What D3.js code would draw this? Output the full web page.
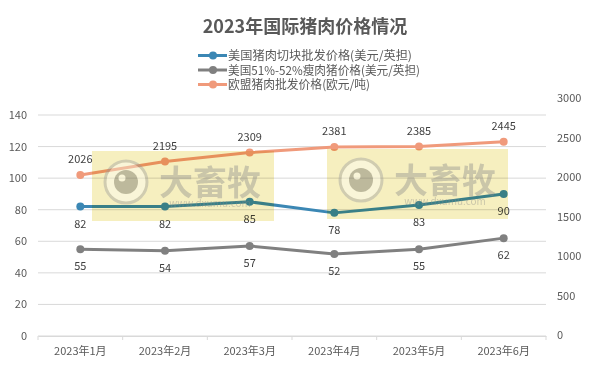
<!DOCTYPE html>
<html>
<head>
<meta charset="utf-8">
<script src="https://cdn.jsdelivr.net/npm/d3@7"></script>
<style>
body { margin: 0; background: #fff; }
text { font-family: "Noto Sans CJK SC", "Noto Sans", sans-serif; }
</style>
</head>
<body>
<div id="chart"></div>
<script>
// data
var months = ["2023年1月", "2023年2月", "2023年3月", "2023年4月", "2023年5月", "2023年6月"];
var usCut = [82, 82, 85, 78, 83, 90];
var usLean = [55, 54, 57, 52, 55, 62];
var euPork = [2026, 2195, 2309, 2381, 2385, 2445];
var leftTicks = [0, 20, 40, 60, 80, 100, 120, 140];
var rightTicks = [0, 500, 1000, 1500, 2000, 2500, 3000];
var seriesNames = ["美国猪肉切块批发价格(美元/英担)", "美国51%-52%瘦肉猪价格(美元/英担)", "欧盟猪肉批发价格(欧元/吨)"];
var colors = ["#3b87b4", "#808080", "#f09a7b"];

var width = 601, height = 382;
var left = 38, right = 546;

var svg = d3.select("#chart").append("svg")
	.attr("width", width)
	.attr("height", height);

var x = d3.scaleBand().domain(months).range([left, right]);
var yL = d3.scaleLinear().domain([0, 140]).range([336, 115]);
var yR = d3.scaleLinear().domain([0, 3000]).range([335, 98]);

// title
svg.append("text")
	.attr("x", 305).attr("y", 33)
	.attr("text-anchor", "middle")
	.attr("font-size", 18).attr("font-weight", "bold")
	.attr("fill", "#595959")
	.text("2023年国际猪肉价格情况");

// legend
var legendWidths = [184, 192, 142];
seriesNames.forEach(function(name, i){
	var ly = 55.5 + i * 14.5;
	svg.append("line").attr("x1", 198).attr("x2", 227).attr("y1", ly).attr("y2", ly)
		.attr("stroke", colors[i]).attr("stroke-width", 3);
	svg.append("circle").attr("cx", 213).attr("cy", ly).attr("r", 4).attr("fill", colors[i]);
	svg.append("text").attr("x", 228).attr("y", ly + 4.5)
		.attr("font-size", 12).attr("fill", "#595959")
		.attr("textLength", legendWidths[i]).attr("lengthAdjust", "spacingAndGlyphs")
		.text(name);
});

// gridlines
svg.append("g").selectAll("line").data(leftTicks).enter().append("line")
	.attr("x1", left).attr("x2", right)
	.attr("y1", function(d){ return yL(d); })
	.attr("y2", function(d){ return yL(d); })
	.attr("stroke", "#d9d9d9").attr("stroke-width", 1);

// left axis
var yAxisL = d3.axisLeft(yL).tickValues(leftTicks).tickSize(0).tickPadding(11);
var gL = svg.append("g").attr("transform", "translate(" + left + ",0)").call(yAxisL);
gL.select(".domain").remove();
gL.selectAll("text").attr("font-size", 11).attr("fill", "#595959").style("font-family", "'Noto Sans CJK SC', sans-serif");

// right axis
var yAxisR = d3.axisRight(yR).tickValues(rightTicks).tickFormat(d3.format("d")).tickSize(0).tickPadding(11);
var gR = svg.append("g").attr("transform", "translate(" + right + ",0)").call(yAxisR);
gR.select(".domain").remove();
gR.selectAll("text").attr("font-size", 11).attr("fill", "#595959").style("font-family", "'Noto Sans CJK SC', sans-serif");

// bottom axis
var xAxis = d3.axisBottom(x).tickSize(0).tickPadding(11);
var gX = svg.append("g").attr("transform", "translate(0," + yL(0) + ")").call(xAxis);
gX.select(".domain").attr("stroke", "#d9d9d9");
gX.selectAll("text").attr("font-size", 11).attr("fill", "#595959").style("font-family", "'Noto Sans CJK SC', sans-serif");
var bandEdges = months.map(function(m){ return x(m); }).concat([right]);
gX.selectAll(".edge").data(bandEdges).enter().append("line")
	.attr("x1", function(d){ return d; }).attr("x2", function(d){ return d; })
	.attr("y1", 0).attr("y2", 4).attr("stroke", "#d9d9d9");

function cx(d, i){ return x(months[i]) + x.bandwidth() / 2; }

function drawSeries(values, scale, color, dy){
	var line = d3.line().x(cx).y(function(d){ return scale(d); });
	svg.append("path").datum(values).attr("d", line)
		.attr("fill", "none").attr("stroke", color).attr("stroke-width", 3)
		.attr("stroke-linejoin", "round");
	svg.append("g").selectAll("circle").data(values).enter().append("circle")
		.attr("cx", cx).attr("cy", function(d){ return scale(d); })
		.attr("r", 4).attr("fill", color);
	svg.append("g").selectAll("text").data(values).enter().append("text")
		.attr("x", cx).attr("y", function(d){ return scale(d) + dy; })
		.attr("text-anchor", "middle").attr("font-size", 11).attr("fill", "#404040")
		.text(function(d){ return d; });
}

drawSeries(euPork, yR, colors[2], -12);
drawSeries(usLean, yL, colors[1], 21);
drawSeries(usCut, yL, colors[0], 21);

// watermark boxes
var marks = [[92, 151, 182, 70], [327, 149, 181, 70]];
marks.forEach(function(m){
	svg.append("rect").attr("x", m[0]).attr("y", m[1]).attr("width", m[2]).attr("height", m[3])
		.attr("fill", "#f6efbf").style("mix-blend-mode", "multiply");
	var g = svg.append("g").attr("opacity", 0.4);
	var ccx = m[0] + 34, ccy = m[1] + 31;
	g.append("circle").attr("cx", ccx).attr("cy", ccy).attr("r", 21)
		.attr("fill", "#ffffff").attr("stroke", "#9a9a9a").attr("stroke-width", 3);
	g.append("circle").attr("cx", ccx).attr("cy", ccy).attr("r", 12).attr("fill", "#6a6a6a");
	g.append("circle").attr("cx", ccx - 4).attr("cy", ccy - 4).attr("r", 3.5).attr("fill", "#ffffff");
	g.append("text").attr("x", m[0] + 118).attr("y", m[1] + 44)
		.attr("text-anchor", "middle").attr("font-size", 34).attr("font-weight", "bold")
		.attr("fill", "#8a8a8a").text("大畜牧");
	g.append("text").attr("x", m[0] + 118).attr("y", m[1] + 56)
		.attr("text-anchor", "middle").attr("font-size", 10).attr("fill", "#8a8a8a")
		.text("www.dxumu.com");
});
</script>
</body>
</html>
